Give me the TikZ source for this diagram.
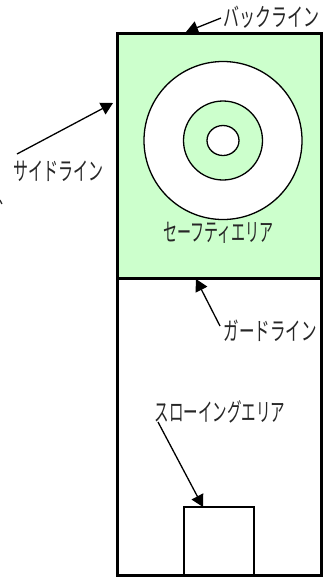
\documentclass[tikz,border=0pt]{standalone}
\usepackage{fontspec}
\setmainfont{Noto Sans CJK JP}
\usetikzlibrary{shapes.geometric, arrows.meta, positioning}
\definecolor{safegreen}{RGB}{204, 255, 204}
\newcommand{\narrowkana}[2][0.6]{\scalebox{#1}[1]{#2}}
\tikzset{
  court/.style={draw=black, line width=3pt, minimum width=204pt, inner sep=0pt, outer sep=0pt},
  ring/.style={draw=black, line width=1.3pt, inner sep=0pt, outer sep=0pt},
  zonelabel/.style={font=\fontsize{25}{25}\selectfont, inner sep=0pt, text=black!85},
  pointer/.style={draw=black, line width=1.3pt, -{Triangle[length=12pt, width=13pt]}, shorten >=0pt}
}
\begin{document}
\begin{tikzpicture}[x=1pt, y=-1pt]
  \useasboundingbox (0,0) rectangle (326,579);
  % court areas
  \node[court, fill=safegreen, minimum height=245pt] (safearea) at (219,155.5) {};
  \node[court, minimum height=297pt] (guardarea) at (219,426.5) {};
  % circles
  \node[ring, circle, fill=white, minimum size=158pt] (outerring) at (223,140.5) {};
  \node[ring, circle, fill=safegreen, minimum size=79pt] (middlering) at (223,140.5) {};
  \node[ring, ellipse, fill=white, minimum width=32pt, minimum height=30pt] (innerring) at (223,140.5) {};
  % slowing box
  \node[draw=black, line width=1.3pt, minimum width=70pt, minimum height=68pt, inner sep=0pt, outer sep=0pt] (slowbox) at (219,541) {};
  % labels
  \node[zonelabel] (backlabel) at (271.5,17) {\narrowkana[0.64]{バックライン}};
  \node[zonelabel] (sidelabel) at (59,171) {\narrowkana{サイドライン}};
  \node[zonelabel] (safelabel) at (218.5,233) {\narrowkana[0.56]{セーフティエリア}};
  \node[zonelabel] (guardlabel) at (270,331) {\narrowkana[0.62]{ガードライン}};
  \node[zonelabel] (slowlabel) at (220,412) {\narrowkana[0.58]{スローイングエリア}};
  \node[zonelabel, anchor=base west] (cutmark) at (-4,221) {ﾞ};
  % arrow ends
  \coordinate (backstart) at (221,18);
  \coordinate (backend) at (186,32);
  \coordinate (sidestart) at (17,154);
  \coordinate (sideend) at (113,103);
  \coordinate (guardstart) at (220,326);
  \coordinate (guardend) at (196,279);
  \coordinate (slowstart) at (158,422);
  \coordinate (slowend) at (203,507);
  \draw[pointer] (backstart) -- (backend);
  \draw[pointer] (sidestart) -- (sideend);
  \draw[pointer] (guardstart) -- (guardend);
  \draw[pointer] (slowstart) -- (slowend);
\end{tikzpicture}
\end{document}
